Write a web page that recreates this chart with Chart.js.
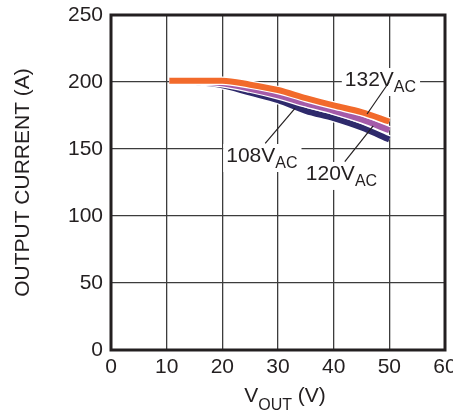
<!DOCTYPE html>
<html><head><meta charset="utf-8">
<script src="https://cdn.jsdelivr.net/npm/chart.js@4.4.0/dist/chart.umd.min.js"></script>
<style>html,body{margin:0;padding:0;background:#fff}</style>
</head><body>
<canvas id="c" width="453" height="417" style="width:453px;height:417px;display:block"></canvas>
<script>
// ---- data ----
const vout = [10.5, 15, 20, 25, 30, 35, 40, 45, 50];
const i108 = [201, 200, 197.5, 192, 186.5, 178.5, 173, 166, 157];
const i120 = [201, 200.5, 199, 195, 190, 184, 178.5, 172, 164];
const i132 = [201, 201, 201, 198, 194, 188, 182.5, 177.5, 170.5];
const xTicks = [0, 10, 20, 30, 40, 50, 60];
const yTicks = [0, 50, 100, 150, 200, 250];
const seriesLabels = ['108V', '120V', '132V'];
const seriesColors = ['#2e2a6c', '#a45ba9', '#f26a2b'];

const FF = '"Liberation Sans", Arial, Helvetica, sans-serif';
const INK = '#231f20';

// annotation placement (data units) – text anchor and leader line ends
const labelPos = [[20.7, 140.3], [35.0, 126.9], [42.0, 197]];
const leaderLines = [[[27.7, 154.2], [33.05, 180.3]], [[42.0, 140.5], [47.1, 167.2]], [[49.97, 200], [46.0, 176.1]]];

function pts(vals) { return vout.map((v, i) => ({x: v, y: vals[i]})); }
const seriesVals = [i108, i120, i132];
const datasets = [];
seriesVals.forEach((vals, k) => {
  datasets.push({label: seriesLabels[k] + ' outline', data: pts(vals), borderColor: '#ffffff', borderWidth: 8.5,
    pointRadius: 0, cubicInterpolationMode: 'monotone', order: 10 - 2 * k});
  datasets.push({label: seriesLabels[k] + 'AC', data: pts(vals), borderColor: seriesColors[k], borderWidth: 6,
    pointRadius: 0, cubicInterpolationMode: 'monotone', order: 9 - 2 * k});
});

const annot = {
  id: 'annot',
  beforeDatasetsDraw(chart) {
    const {ctx, chartArea: a, scales: {x, y}} = chart;
    ctx.save();
    seriesLabels.forEach((t, k) => {
      const px = x.getPixelForValue(labelPos[k][0]), py = y.getPixelForValue(labelPos[k][1]);
      ctx.font = '21px ' + FF; const w1 = ctx.measureText(t).width;
      ctx.font = '16px ' + FF; const w2 = ctx.measureText('AC').width;
      ctx.fillStyle = '#fff';
      ctx.fillRect(px - 3, py - 18, w1 + w2 + 7, 28);
      ctx.fillStyle = INK; ctx.textAlign = 'left'; ctx.textBaseline = 'alphabetic';
      ctx.font = '21px ' + FF; ctx.fillText(t, px, py);
      ctx.font = '16px ' + FF; ctx.fillText('AC', px + w1, py + 6);
    });
    ctx.strokeStyle = INK; ctx.lineWidth = 3;
    ctx.strokeRect(a.left, a.top, a.right - a.left, a.bottom - a.top);
    ctx.restore();
  },
  afterDatasetsDraw(chart) {
    const {ctx, scales: {x, y}} = chart;
    ctx.save();
    ctx.strokeStyle = INK; ctx.lineWidth = 1.2;
    leaderLines.forEach(([p, q]) => {
      ctx.beginPath();
      ctx.moveTo(x.getPixelForValue(p[0]), y.getPixelForValue(p[1]));
      ctx.lineTo(x.getPixelForValue(q[0]), y.getPixelForValue(q[1]));
      ctx.stroke();
    });
    ctx.restore();
  },
  afterDraw(chart) {
    const {ctx, chartArea: a} = chart;
    ctx.save();
    ctx.fillStyle = INK; ctx.textAlign = 'left'; ctx.textBaseline = 'alphabetic';
    ctx.font = '21px ' + FF; const wV = ctx.measureText('V').width; const wR = ctx.measureText(' (V)').width;
    ctx.font = '16px ' + FF; const wS = ctx.measureText('OUT').width;
    const total = wV + wS + wR;
    let sx = (a.left + a.right) / 2 + 7 - total / 2;
    const by = 402;
    ctx.font = '21px ' + FF; ctx.fillText('V', sx, by);
    ctx.font = '16px ' + FF; ctx.fillText('OUT', sx + wV, by + 8);
    ctx.font = '21px ' + FF; ctx.fillText(' (V)', sx + wV + wS, by);
    ctx.restore();
  }
};

new Chart(document.getElementById('c'), {
  type: 'line',
  data: {datasets},
  options: {
    responsive: false,
    animation: false,
    layout: {padding: {top: 15, right: 8, left: 0, bottom: 0}},
    plugins: {legend: {display: false}, tooltip: {enabled: false}},
    scales: {
      x: {
        type: 'linear', min: xTicks[0], max: xTicks[xTicks.length - 1],
        afterBuildTicks: s => { s.ticks = xTicks.map(v => ({value: v})); },
        afterFit: s => { s.height = 67; s.paddingLeft = 0; s.paddingRight = 0; },
        grid: {color: '#3c3c3c', lineWidth: 1.3, drawTicks: false},
        border: {display: false},
        ticks: {color: INK, font: {family: FF, size: 21}, padding: 5, maxRotation: 0},
        title: {display: false}
      },
      y: {
        type: 'linear', min: yTicks[0], max: yTicks[yTicks.length - 1],
        afterBuildTicks: s => { s.ticks = yTicks.map(v => ({value: v})); },
        afterFit: s => { s.width = 111; s.paddingTop = 0; s.paddingBottom = 0; },
        grid: {color: '#3c3c3c', lineWidth: 1.3, drawTicks: false},
        border: {display: false},
        ticks: {color: INK, font: {family: FF, size: 21}, padding: 8},
        title: {display: true, text: 'OUTPUT CURRENT (A)', color: INK, font: {family: FF, size: 21}, padding: {top: 11, bottom: 0}}
      }
    }
  },
  plugins: [annot]
});
</script>
</body></html>
